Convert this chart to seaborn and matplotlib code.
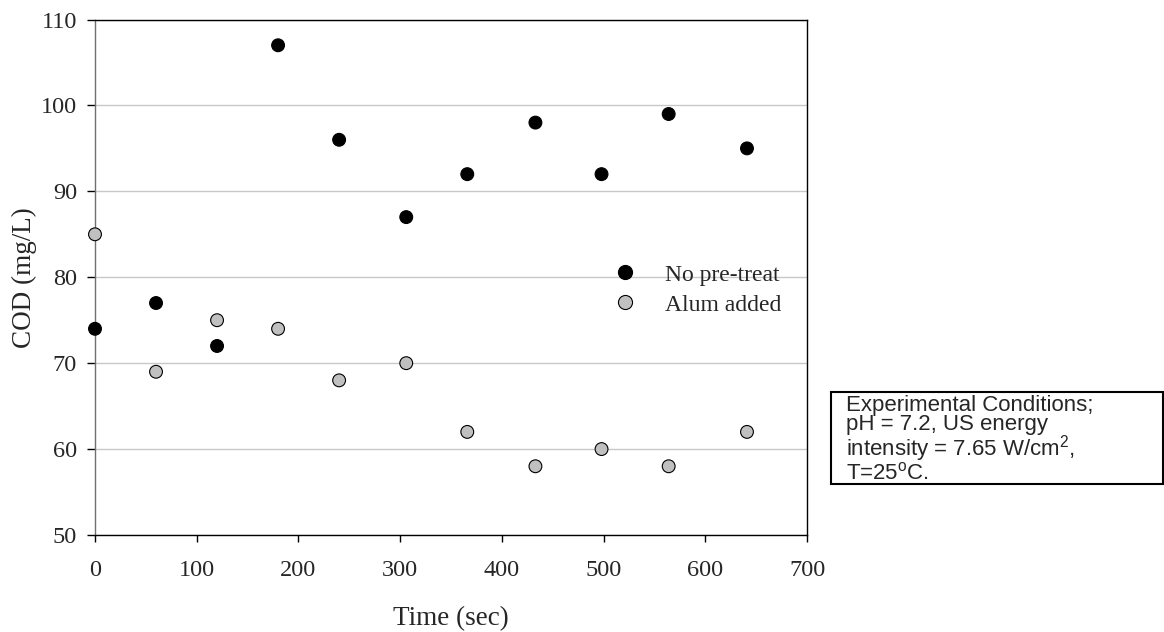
import seaborn as sns
import matplotlib.pyplot as plt
import pandas as pd

# values
time_sec = [0, 60, 120, 180, 240, 306, 366, 433, 498, 564, 641]
cod_no_pretreat = [74, 77, 72, 107, 96, 87, 92, 98, 92, 99, 95]
cod_alum = [85, 69, 75, 74, 68, 70, 62, 58, 60, 58, 62]
series_names = ['No pre-treat', 'Alum added']
series_colors = ['black', '#c0c0c0']
box_text = ('Experimental Conditions;\npH = 7.2, US energy\n'
            'intensity = 7.65 W/cm$^2$,\nT=25$^{o}$C.')

df = pd.concat([
    pd.DataFrame({'time': time_sec, 'cod': cod_no_pretreat, 'series': series_names[0]}),
    pd.DataFrame({'time': time_sec, 'cod': cod_alum, 'series': series_names[1]}),
])

sns.set_style('white')
plt.rcParams['font.family'] = ['Liberation Serif', 'DejaVu Serif']
plt.rcParams['mathtext.default'] = 'regular'

fig = plt.figure(figsize=(11.64, 6.32), dpi=100)
ax = fig.add_axes([95 / 1164, 97 / 632, 712 / 1164, 515.5 / 632])

ax.yaxis.grid(True, color='#c8c8c8', linewidth=1)
ax.set_axisbelow(True)

sns.scatterplot(data=df, x='time', y='cod', hue='series', hue_order=series_names,
                palette=series_colors, s=85, edgecolor='black', linewidth=0.8,
                ax=ax, zorder=3, clip_on=False)

ax.set_xlim(0, 700)
ax.set_ylim(50, 110)
ax.set_xticks(range(0, 701, 100))
ax.set_yticks(range(50, 111, 10))
ax.tick_params(direction='out', width=1, color='black', labelsize=17.5,
               bottom=True, left=True)
ax.tick_params(axis='x', length=5, pad=13)
ax.tick_params(axis='y', length=6, pad=7)
for side in ax.spines.values():
    side.set_color('black')
    side.set_linewidth(1)
ax.spines['left'].set_color('#707070')

ax.set_xlabel('Time (sec)', fontsize=19.5, labelpad=18)
ax.set_ylabel('COD (mg/L)', fontsize=19.5, labelpad=3)

ax.legend(loc='upper left', bbox_to_anchor=(0.7275, 0.5257), frameon=False,
          fontsize=17, handlelength=1.0, handletextpad=1.2, labelspacing=0.36,
          borderpad=0, borderaxespad=0, markerscale=1.1)

# conditions box on the right
fig.add_artist(plt.Rectangle((831 / 1164, (632 - 484) / 632), 332 / 1164, 92 / 632,
                             transform=fig.transFigure, facecolor='white',
                             edgecolor='black', linewidth=1.5))
fig.text(846 / 1164, (632 - 395) / 632, box_text,
         family=['Liberation Sans', 'DejaVu Sans'], fontsize=16,
         va='top', ha='left', linespacing=0.9)

plt.savefig('out.png', dpi=100)
